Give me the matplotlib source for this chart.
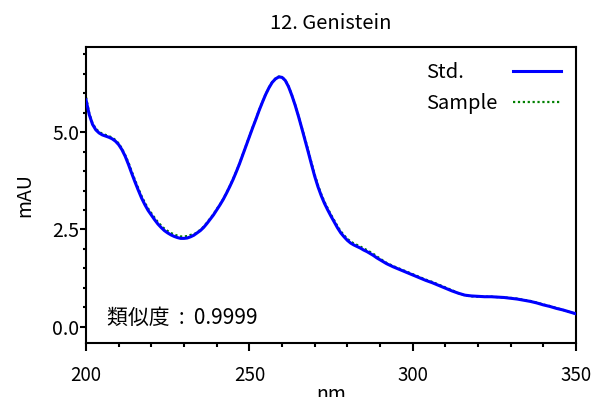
import matplotlib
matplotlib.use('Agg')
import matplotlib.pyplot as plt
from matplotlib.ticker import MultipleLocator, FormatStrFormatter

plt.rcParams['font.family'] = ['Noto Sans CJK JP', 'DejaVu Sans']

# wavelength (nm): 1 nm steps up to 289, 2 nm steps after that
wavelength = list(range(200, 290)) + list(range(290, 352, 2))

# absorbance (mAU)
std = [5.83, 5.45, 5.20, 5.06, 4.98, 4.93, 4.90, 4.87, 4.83, 4.77,
       4.68, 4.55, 4.38, 4.17, 3.94, 3.72, 3.51, 3.31, 3.14, 2.99,
       2.87, 2.75, 2.64, 2.55, 2.47, 2.41, 2.36, 2.32, 2.29, 2.27,
       2.27, 2.28, 2.31, 2.35, 2.41, 2.47, 2.55, 2.65, 2.76, 2.87,
       3.00, 3.13, 3.27, 3.43, 3.60, 3.78, 3.98, 4.19, 4.42, 4.65,
       4.88, 5.11, 5.33, 5.56, 5.77, 5.97, 6.14, 6.28, 6.37, 6.42,
       6.41, 6.33, 6.17, 5.95, 5.70, 5.42, 5.12, 4.81, 4.50, 4.18,
       3.87, 3.60, 3.37, 3.17, 3.00, 2.84, 2.69, 2.54, 2.41, 2.31,
       2.22, 2.15, 2.10, 2.06, 2.02, 1.97, 1.93, 1.88, 1.83, 1.77,
       1.72, 1.62, 1.54, 1.47, 1.40, 1.33, 1.26, 1.19, 1.13, 1.06,
       0.99, 0.92, 0.86, 0.81, 0.79, 0.78, 0.77, 0.77, 0.76, 0.75,
       0.73, 0.71, 0.68, 0.65, 0.61, 0.56, 0.52, 0.47, 0.43, 0.38,
       0.33]
sample = [5.90, 5.48, 5.23, 5.09, 5.01, 4.96, 4.93, 4.90, 4.86, 4.80,
          4.71, 4.58, 4.41, 4.22, 3.99, 3.77, 3.56, 3.36, 3.19, 3.04,
          2.92, 2.80, 2.69, 2.60, 2.52, 2.46, 2.41, 2.37, 2.34, 2.32,
          2.32, 2.33, 2.36, 2.37, 2.43, 2.49, 2.57, 2.67, 2.78, 2.89,
          3.02, 3.14, 3.28, 3.44, 3.61, 3.79, 3.99, 4.20, 4.43, 4.66,
          4.89, 5.12, 5.34, 5.57, 5.78, 5.98, 6.15, 6.29, 6.38, 6.43,
          6.42, 6.34, 6.18, 5.96, 5.71, 5.43, 5.13, 4.85, 4.54, 4.22,
          3.91, 3.64, 3.41, 3.21, 3.04, 2.88, 2.73, 2.58, 2.45, 2.35,
          2.26, 2.19, 2.14, 2.10, 2.06, 2.01, 1.97, 1.92, 1.87, 1.81,
          1.75, 1.64, 1.56, 1.49, 1.42, 1.35, 1.28, 1.21, 1.15, 1.08,
          1.01, 0.94, 0.86, 0.80, 0.78, 0.77, 0.77, 0.77, 0.76, 0.75,
          0.74, 0.72, 0.69, 0.66, 0.62, 0.57, 0.53, 0.48, 0.43, 0.38,
          0.33]

fig = plt.figure(figsize=(6.01, 3.97), dpi=100)
ax = fig.add_axes([0.1431, 0.136, 0.8153, 0.7456])

ax.plot(wavelength, std, color='#0000ff', lw=2.2, label='Std.', zorder=3)
ax.plot(wavelength, sample, color='#008000', lw=1.6, ls=(0, (1, 1.2)),
        label='Sample', zorder=2)

ax.set_xlim(200, 350)
ax.set_ylim(-0.42, 7.19)
ax.xaxis.set_major_locator(MultipleLocator(50))
ax.xaxis.set_minor_locator(MultipleLocator(10))
ax.yaxis.set_major_locator(MultipleLocator(2.5))
ax.yaxis.set_minor_locator(MultipleLocator(0.5))
ax.yaxis.set_major_formatter(FormatStrFormatter('%.1f'))

for s in ax.spines.values():
    s.set_linewidth(1.5)
ax.tick_params(axis='x', which='major', length=5.5, width=1.5, labelsize=13.5, pad=10)
ax.tick_params(axis='x', which='minor', length=3, width=1.5)
ax.tick_params(axis='y', which='major', length=4.5, width=1.5, labelsize=14, pad=0.5)
ax.tick_params(axis='y', which='minor', length=2.5, width=1.5)

ax.set_title('12. Genistein', fontsize=14.5, pad=13)
ax.set_xlabel('nm', fontsize=14, labelpad=-1)
ax.set_ylabel('mAU', fontsize=14, labelpad=12)

ax.text(0.043, 0.065, '類似度  :  0.9999', transform=ax.transAxes, fontsize=15)

leg = ax.legend(loc='upper right', frameon=False, markerfirst=False, fontsize=14.5,
                handlelength=2.4, handletextpad=0.9, labelspacing=0.5,
                borderaxespad=0.35)
# left-align the labels, keep the line keys flush right
for col in leg._legend_handle_box.get_children():
    for item in col.get_children():
        item.mode = 'expand'
        item.width = 135

fig.savefig('out.png', dpi=100)
